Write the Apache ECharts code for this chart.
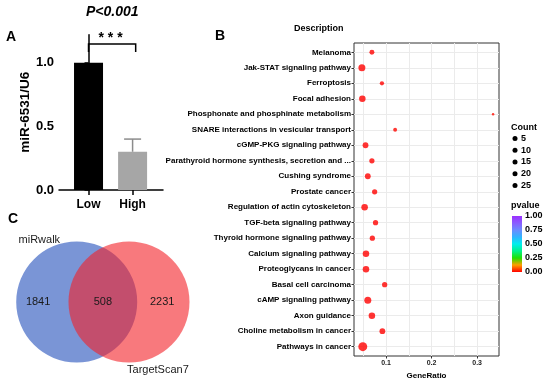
<!DOCTYPE html>
<html><head><meta charset="utf-8">
<script src="https://cdn.jsdelivr.net/npm/echarts@6/dist/echarts.min.js"></script>
<style>html,body{margin:0;padding:0;background:#fff}#c{width:550px;height:382px}</style>
</head><body><div id="c"></div>
<script>
// ---------- data ----------
const barCategories = ['Low', 'High'];
const barValues = [1.0, 0.30];
const barErrors = [0, 0.10];
const barYTicks = [0, 0.5, 1.0];
const pTitle = 'P<0.001';
const sigMark = '* * *';

const pathways = [
  'Melanoma', 'Jak-STAT signaling pathway', 'Ferroptosis', 'Focal adhesion',
  'Phosphonate and phosphinate metabolism', 'SNARE interactions in vesicular transport',
  'cGMP-PKG signaling pathway', 'Parathyroid hormone synthesis, secretion and ...',
  'Cushing syndrome', 'Prostate cancer', 'Regulation of actin cytoskeleton',
  'TGF-beta signaling pathway', 'Thyroid hormone signaling pathway', 'Calcium signaling pathway',
  'Proteoglycans in cancer', 'Basal cell carcinoma', 'cAMP signaling pathway', 'Axon guidance',
  'Choline metabolism in cancer', 'Pathways in cancer'
];
const geneRatio = [0.069, 0.047, 0.091, 0.048, 0.335, 0.120, 0.055, 0.069, 0.060, 0.075,
                   0.053, 0.077, 0.070, 0.056, 0.056, 0.097, 0.060, 0.069, 0.092, 0.049];
const geneCount = [8, 16, 6, 14, 2, 5, 11, 9, 11, 9, 14, 9, 9, 14, 14, 9, 16, 14, 11, 26];
const pValue = [0.001, 0.001, 0.002, 0.001, 0.01, 0.005, 0.001, 0.001, 0.001, 0.001,
                0.001, 0.001, 0.001, 0.001, 0.001, 0.002, 0.001, 0.001, 0.001, 0.001];
const ratioTicks = [0.1, 0.2, 0.3];
const ratioGridTicks = [0.05, 0.1, 0.15, 0.2, 0.25, 0.3];
const countBreaks = [5, 10, 15, 20, 25];
const pvalueTicks = [0, 0.25, 0.5, 0.75, 1.0];
const pColors = ['#ff0000', '#ff9f00', '#22e000', '#00f08c', '#00eeee', '#30b4ff', '#6a8cff', '#8a5cff', '#9b30ff'];

const vennSets = ['miRwalk', 'TargetScan7'];
const vennCounts = [1841, 508, 2231];

// ---------- chart ----------
const F = '"Liberation Sans", Arial, Helvetica, sans-serif';
const chart = echarts.init(document.getElementById('c'), null, {renderer: 'canvas', width: 550, height: 382});
const rowIdx = pathways.map((_, i) => i);
const bold = (size, color) => ({fontFamily: F, fontSize: size, fontWeight: 'bold', color: color || '#000'});

const option = {
  backgroundColor: '#fff',
  animation: false,
  title: [
    {text: pTitle, left: 86, top: 5.2, padding: 0, textStyle: Object.assign(bold(14), {fontStyle: 'italic'})},
    {text: 'A', left: 6, top: 30.2, padding: 0, textStyle: bold(14)},
    {text: 'B', left: 215, top: 29.2, padding: 0, textStyle: bold(14)},
    {text: 'C', left: 8, top: 212.2, padding: 0, textStyle: bold(14)},
    {text: 'Description', left: 294, top: 24, padding: 0, textStyle: bold(9)},
    {text: 'Count', left: 511, top: 123.2, padding: 0, textStyle: bold(9)},
    {text: 'pvalue', left: 511, top: 201.2, padding: 0, textStyle: bold(9)}
  ],
  grid: [
    {left: 59, top: 34.7, width: 104, height: 155.3, outerBoundsMode: 'none'},
    {left: 354, top: 43, width: 145, height: 313, show: true, borderColor: '#333', borderWidth: 1,
     backgroundColor: 'transparent', outerBoundsMode: 'none'},
    {left: 512, top: 216, width: 10, height: 56, outerBoundsMode: 'none'},
    {left: 0, top: 229.4, width: 205.7, height: 145.2, outerBoundsMode: 'none'}
  ],
  xAxis: [
    {gridIndex: 0, type: 'value', min: -0.67, max: 1.69,
     axisLine: {show: true, lineStyle: {color: '#000', width: 1.5}},
     axisTick: {show: true, customValues: [0, 1], length: 5, lineStyle: {color: '#000', width: 1.5}},
     axisLabel: {customValues: [0, 1], formatter: v => barCategories[Math.round(v)], margin: 9, ...bold(12)},
     splitLine: {show: false}},
    {gridIndex: 1, type: 'value', position: 'top', min: 0.0297, max: 0.348,
     axisLine: {show: false}, axisTick: {show: false, customValues: ratioGridTicks},
     axisLabel: {show: false}, splitLine: {show: true, lineStyle: {color: '#ebebeb', width: 1}}},
    {gridIndex: 1, type: 'value', position: 'bottom', min: 0.0297, max: 0.348,
     axisLine: {show: false},
     axisTick: {show: true, customValues: ratioTicks, length: 2.5, lineStyle: {color: '#333'}},
     axisLabel: {customValues: ratioTicks, formatter: v => v.toFixed(1), margin: 4, ...bold(7, '#222')},
     splitLine: {show: false},
     name: 'GeneRatio', nameLocation: 'middle', nameGap: 13, nameTextStyle: bold(8)},
    {gridIndex: 2, type: 'value', min: 0, max: 1, show: false},
    {gridIndex: 3, type: 'value', min: -1.7, max: 1.7, show: false}
  ],
  yAxis: [
    {gridIndex: 0, type: 'value', min: 0, max: 1.22,
     axisLine: {show: true, lineStyle: {color: '#000', width: 1.5}},
     axisTick: {show: true, customValues: barYTicks, length: 4, lineStyle: {color: '#000', width: 1.5}},
     axisLabel: {customValues: barYTicks, formatter: v => v.toFixed(1), margin: 5, ...bold(13)},
     splitLine: {show: false},
     name: 'miR-6531/U6', nameLocation: 'middle', nameRotate: 90, nameGap: 26, nameTextStyle: bold(13.5)},
    {gridIndex: 1, type: 'value', inverse: true, min: -0.6, max: 19.6,
     axisLine: {show: false},
     axisTick: {show: true, customValues: rowIdx, length: 2.5, lineStyle: {color: '#333'}},
     axisLabel: {customValues: rowIdx, formatter: v => pathways[Math.round(v)], margin: 3, ...bold(8)},
     splitLine: {show: true, lineStyle: {color: '#ebebeb', width: 1}}},
    {gridIndex: 2, type: 'value', min: 0, max: 1, position: 'right',
     axisLine: {show: false},
     axisTick: {show: true, inside: true, customValues: pvalueTicks, length: 2, lineStyle: {color: '#fff'}},
     axisLabel: {customValues: pvalueTicks, formatter: v => v.toFixed(2), margin: 3, ...bold(9)},
     splitLine: {show: false}},
    {gridIndex: 3, type: 'value', min: -1.2, max: 1.2, show: false}
  ],
  visualMap: [
    {type: 'continuous', show: false, seriesIndex: 3, dimension: 2, min: 0, max: 1, inRange: {color: pColors}},
    {type: 'piecewise', seriesIndex: [], orient: 'vertical', inverse: true, align: 'left',
     left: 512.5, top: 134, padding: 0,
     pieces: countBreaks.map(v => ({value: v, label: String(v), color: '#000'})),
     itemSymbol: 'circle', itemWidth: 5, itemHeight: 5, itemGap: 2.75, textGap: 3.5,
     selectedMode: false, showLabel: true, inRange: {color: ['#000']},
     textStyle: bold(9)}
  ],
  series: [
    {type: 'bar', xAxisIndex: 0, yAxisIndex: 0, barWidth: 29,
     data: barValues.map((v, i) => ({value: [i, v], itemStyle: {color: i === 0 ? '#000000' : '#a6a6a6'}}))},
    {type: 'custom', xAxisIndex: 0, yAxisIndex: 0, clip: false,
     data: barValues.map((v, i) => [i, v, barErrors[i]]),
     renderItem: (params, api) => {
       const x = api.value(0), v = api.value(1), e = api.value(2);
       if (!(e > 0)) return {type: 'group', children: []};
       const p0 = api.coord([x, v]), p1 = api.coord([x, v + e]);
       const hw = 8.5;
       const st = {stroke: '#8c8c8c', lineWidth: 1.5};
       return {type: 'group', children: [
         {type: 'line', shape: {x1: p0[0], y1: p0[1], x2: p1[0], y2: p1[1]}, style: st},
         {type: 'line', shape: {x1: p1[0] - hw, y1: p1[1], x2: p1[0] + hw, y2: p1[1]}, style: st}
       ]};
     }},
    {type: 'custom', xAxisIndex: 0, yAxisIndex: 0, clip: false, silent: true,
     data: [[0, 1]],
     renderItem: (params, api) => {
       const a = api.value(0), b = api.value(1);
       const top = Math.max(...barValues) + 0.147, foot = Math.max(...barValues) + 0.084;
       const pts = [api.coord([a, foot]), api.coord([a, top]), api.coord([b + 0.07, top]), api.coord([b + 0.07, foot])];
       const s = api.coord([(a + b) / 2, Math.max(...barValues) + 0.19]);
       return {type: 'group', children: [
         {type: 'polyline', shape: {points: pts}, style: {stroke: '#000', lineWidth: 1.5, fill: null}},
         {type: 'text', x: s[0], y: s[1], style: {text: sigMark, align: 'center', verticalAlign: 'middle',
           font: 'bold 14px ' + F, fill: '#000'}}
       ]};
     }},
    {type: 'scatter', xAxisIndex: 2, yAxisIndex: 1,
     data: pathways.map((n, i) => [geneRatio[i], i, pValue[i], geneCount[i]]),
     symbolSize: v => 1.75 * Math.sqrt(v[3])},
    {type: 'custom', xAxisIndex: 3, yAxisIndex: 2, silent: true, data: [[0, 0]],
     renderItem: (params, api) => {
       const p0 = api.coord([0, 1]), p1 = api.coord([1, 0]);
       const n = pColors.length;
       const stops = pColors.map((c, i) => ({offset: 1 - i / (n - 1), color: c})).reverse();
       return {type: 'rect', shape: {x: p0[0], y: p0[1], width: p1[0] - p0[0], height: p1[1] - p0[1]},
         style: {fill: new echarts.graphic.LinearGradient(0, 0, 0, 1, stops)}};
     }},
    {type: 'custom', xAxisIndex: 4, yAxisIndex: 3, silent: true, data: [[0, 0]],
     renderItem: (params, api) => {
       const half = 0.432;
       const c1 = api.coord([-half, 0]), c2 = api.coord([half, 0]);
       const r = api.size([1, 0])[0];
       const txt = (pos, t) => {
         const p = api.coord(pos);
         return {type: 'text', x: p[0], y: p[1], style: {text: t, align: 'center', verticalAlign: 'middle',
           font: '11px ' + F, fill: '#1a1a1a'}};
       };
       return {type: 'group', children: [
         {type: 'circle', shape: {cx: c1[0], cy: c1[1], r: r}, style: {fill: 'rgba(33,78,187,0.6)'}},
         {type: 'circle', shape: {cx: c2[0], cy: c2[1], r: r}, style: {fill: 'rgba(243,32,38,0.6)'}},
         txt([-1.07, 0], String(vennCounts[0])),
         txt([0, 0], String(vennCounts[1])),
         txt([0.98, 0], String(vennCounts[2])),
         txt([-1.05, 1.02], vennSets[0]),
         txt([0.91, -1.12], vennSets[1])
       ]};
     }}
  ]
};
chart.setOption(option);
</script>
</body></html>
